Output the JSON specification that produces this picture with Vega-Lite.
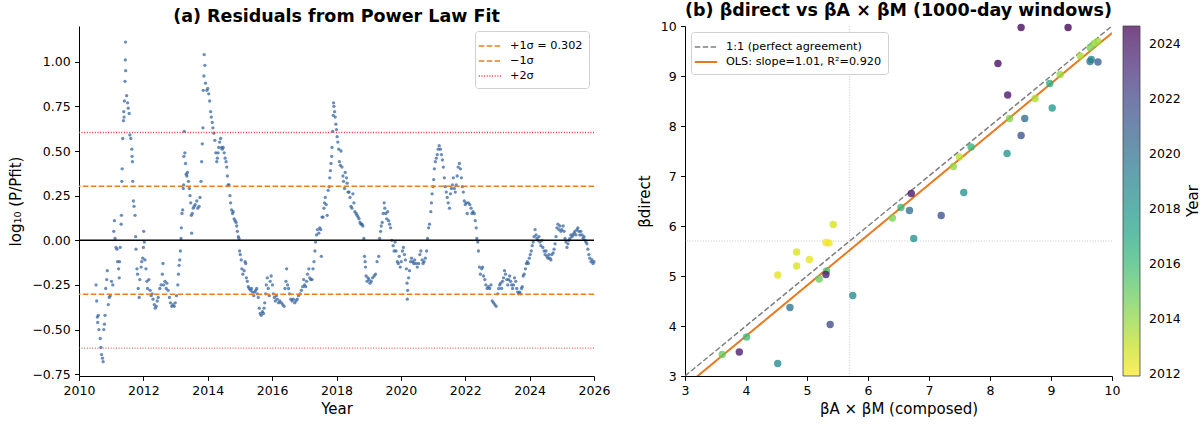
{
  "$schema": "https://vega.github.io/schema/vega-lite/v6.json",
  "background": "white",
  "padding": {"left": 8, "top": 1, "right": 2, "bottom": 2},
  "bounds": "flush",
  "spacing": 91,
  "resolve": {
    "scale": {"stroke": "independent", "strokeDash": "independent", "strokeWidth": "independent", "fill": "independent", "x": "independent", "y": "independent"},
    "legend": {"stroke": "independent", "strokeDash": "independent", "strokeWidth": "independent", "fill": "independent"}
  },
  "config": {
    "font": "DejaVu Sans",
    "view": {"stroke": null},
    "axis": {"labelFont": "DejaVu Sans", "labelFontSize": 12.5, "labelColor": "#000", "titleFont": "DejaVu Sans", "titleFontSize": 15, "titleFontWeight": "normal", "titleColor": "#000", "domainColor": "#000", "tickColor": "#000", "tickSize": 4.4, "grid": false, "labelPadding": 4.4, "titlePadding": 4, "labelFlush": false, "labelOverlap": false},
    "title": {"font": "DejaVu Sans", "fontSize": 17.5, "fontWeight": "bold", "color": "#000", "offset": 1},
    "legend": {"labelFont": "DejaVu Sans", "labelFontSize": 11.25, "labelColor": "#000", "titleFont": "DejaVu Sans"}
  },
  "datasets": {
    "resid": [
      {"t":2010.53,"v":-0.25},{"t":2010.55,"v":-0.34},{"t":2010.57,"v":-0.43},{"t":2010.58,"v":-0.46},{"t":2010.60,"v":-0.42},{"t":2010.62,"v":-0.50},{"t":2010.66,"v":-0.55},{"t":2010.68,"v":-0.60},{"t":2010.70,"v":-0.64},{"t":2010.73,"v":-0.66},{"t":2010.75,"v":-0.68},{"t":2010.77,"v":-0.50},{"t":2010.79,"v":-0.47},{"t":2010.81,"v":-0.42},{"t":2010.83,"v":-0.27},{"t":2010.86,"v":-0.22},{"t":2010.88,"v":-0.17},{"t":2010.91,"v":-0.36},{"t":2010.94,"v":-0.32},{"t":2010.97,"v":-0.31},
      {"t":2011.01,"v":-0.23},{"t":2011.05,"v":-0.25},{"t":2011.08,"v":0.05},{"t":2011.10,"v":0.11},{"t":2011.12,"v":0.01},{"t":2011.15,"v":-0.04},{"t":2011.18,"v":-0.05},{"t":2011.20,"v":-0.12},{"t":2011.23,"v":-0.16},{"t":2011.25,"v":-0.21},{"t":2011.26,"v":-0.12},{"t":2011.28,"v":-0.04},{"t":2011.31,"v":0.09},{"t":2011.32,"v":0.14},{"t":2011.33,"v":0.33},{"t":2011.34,"v":0.40},{"t":2011.36,"v":0.57},{"t":2011.38,"v":0.67},{"t":2011.39,"v":0.72},{"t":2011.40,"v":0.69},{"t":2011.41,"v":0.78},{"t":2011.43,"v":0.89},{"t":2011.44,"v":1.01},{"t":2011.445,"v":1.11},{"t":2011.45,"v":0.95},{"t":2011.48,"v":0.81},{"t":2011.51,"v":0.77},{"t":2011.53,"v":0.74},{"t":2011.56,"v":0.71},{"t":2011.58,"v":0.59},{"t":2011.61,"v":0.57},{"t":2011.64,"v":0.51},{"t":2011.65,"v":0.47},{"t":2011.66,"v":0.44},{"t":2011.67,"v":0.33},{"t":2011.69,"v":0.22},{"t":2011.71,"v":0.19},{"t":2011.74,"v":0.14},{"t":2011.76,"v":0.02},{"t":2011.77,"v":-0.05},{"t":2011.80,"v":-0.16},{"t":2011.82,"v":-0.19},{"t":2011.84,"v":-0.27},{"t":2011.87,"v":-0.32},{"t":2011.89,"v":-0.22},{"t":2011.93,"v":-0.15},{"t":2011.95,"v":-0.12},{"t":2011.98,"v":-0.10},
      {"t":2012.00,"v":-0.04},{"t":2012.01,"v":0.05},{"t":2012.03,"v":-0.01},{"t":2012.05,"v":-0.11},{"t":2012.08,"v":-0.16},{"t":2012.11,"v":-0.23},{"t":2012.13,"v":-0.27},{"t":2012.17,"v":-0.22},{"t":2012.21,"v":-0.28},{"t":2012.24,"v":-0.31},{"t":2012.27,"v":-0.30},{"t":2012.30,"v":-0.33},{"t":2012.34,"v":-0.36},{"t":2012.37,"v":-0.38},{"t":2012.40,"v":-0.37},{"t":2012.43,"v":-0.34},{"t":2012.46,"v":-0.32},{"t":2012.51,"v":-0.27},{"t":2012.55,"v":-0.25},{"t":2012.59,"v":-0.19},{"t":2012.61,"v":-0.13},{"t":2012.63,"v":-0.25},{"t":2012.67,"v":-0.23},{"t":2012.71,"v":-0.27},{"t":2012.73,"v":-0.24},{"t":2012.77,"v":-0.28},{"t":2012.81,"v":-0.32},{"t":2012.84,"v":-0.35},{"t":2012.88,"v":-0.37},{"t":2012.92,"v":-0.36},{"t":2012.96,"v":-0.37},{"t":2012.99,"v":-0.35},
      {"t":2013.03,"v":-0.31},{"t":2013.07,"v":-0.25},{"t":2013.09,"v":-0.19},{"t":2013.11,"v":-0.14},{"t":2013.13,"v":-0.11},{"t":2013.15,"v":-0.06},{"t":2013.17,"v":0.01},{"t":2013.18,"v":0.07},{"t":2013.20,"v":0.15},{"t":2013.22,"v":0.17},{"t":2013.24,"v":0.29},{"t":2013.25,"v":0.31},{"t":2013.26,"v":0.47},{"t":2013.27,"v":0.61},{"t":2013.29,"v":0.49},{"t":2013.31,"v":0.43},{"t":2013.33,"v":0.37},{"t":2013.35,"v":0.36},{"t":2013.37,"v":0.38},{"t":2013.40,"v":0.33},{"t":2013.43,"v":0.29},{"t":2013.45,"v":0.25},{"t":2013.47,"v":0.21},{"t":2013.49,"v":0.14},{"t":2013.50,"v":0.04},{"t":2013.52,"v":0.15},{"t":2013.55,"v":0.18},{"t":2013.58,"v":0.19},{"t":2013.61,"v":0.20},{"t":2013.66,"v":0.22},{"t":2013.69,"v":0.18},{"t":2013.73,"v":0.19},{"t":2013.76,"v":0.24},{"t":2013.79,"v":0.33},{"t":2013.81,"v":0.44},{"t":2013.83,"v":0.54},{"t":2013.85,"v":0.63},{"t":2013.86,"v":0.84},{"t":2013.88,"v":0.92},{"t":2013.89,"v":1.04},{"t":2013.91,"v":0.98},{"t":2013.93,"v":0.88},{"t":2013.97,"v":0.84},
      {"t":2014.00,"v":0.85},{"t":2014.03,"v":0.82},{"t":2014.06,"v":0.78},{"t":2014.09,"v":0.72},{"t":2014.11,"v":0.69},{"t":2014.14,"v":0.66},{"t":2014.16,"v":0.63},{"t":2014.19,"v":0.60},{"t":2014.22,"v":0.56},{"t":2014.25,"v":0.49},{"t":2014.28,"v":0.44},{"t":2014.30,"v":0.46},{"t":2014.32,"v":0.49},{"t":2014.34,"v":0.52},{"t":2014.37,"v":0.55},{"t":2014.40,"v":0.57},{"t":2014.43,"v":0.52},{"t":2014.45,"v":0.51},{"t":2014.48,"v":0.52},{"t":2014.51,"v":0.49},{"t":2014.54,"v":0.46},{"t":2014.57,"v":0.44},{"t":2014.59,"v":0.41},{"t":2014.61,"v":0.36},{"t":2014.63,"v":0.31},{"t":2014.66,"v":0.31},{"t":2014.69,"v":0.25},{"t":2014.71,"v":0.21},{"t":2014.74,"v":0.17},{"t":2014.77,"v":0.15},{"t":2014.79,"v":0.16},{"t":2014.82,"v":0.12},{"t":2014.85,"v":0.11},{"t":2014.88,"v":0.10},{"t":2014.90,"v":0.08},{"t":2014.92,"v":0.05},{"t":2014.95,"v":0.02},{"t":2014.97,"v":0.01},{"t":2014.99,"v":-0.06},
      {"t":2015.01,"v":-0.08},{"t":2015.04,"v":-0.11},{"t":2015.06,"v":-0.16},{"t":2015.09,"v":-0.19},{"t":2015.13,"v":-0.17},{"t":2015.16,"v":-0.12},{"t":2015.18,"v":-0.13},{"t":2015.20,"v":-0.21},{"t":2015.23,"v":-0.23},{"t":2015.26,"v":-0.26},{"t":2015.29,"v":-0.27},{"t":2015.33,"v":-0.28},{"t":2015.36,"v":-0.27},{"t":2015.39,"v":-0.29},{"t":2015.43,"v":-0.31},{"t":2015.46,"v":-0.29},{"t":2015.49,"v":-0.28},{"t":2015.52,"v":-0.27},{"t":2015.54,"v":-0.30},{"t":2015.57,"v":-0.32},{"t":2015.60,"v":-0.38},{"t":2015.63,"v":-0.41},{"t":2015.66,"v":-0.42},{"t":2015.70,"v":-0.40},{"t":2015.73,"v":-0.41},{"t":2015.75,"v":-0.38},{"t":2015.77,"v":-0.35},{"t":2015.80,"v":-0.30},{"t":2015.82,"v":-0.25},{"t":2015.85,"v":-0.21},{"t":2015.88,"v":-0.27},{"t":2015.91,"v":-0.31},{"t":2015.94,"v":-0.23},{"t":2015.97,"v":-0.20},
      {"t":2016.01,"v":-0.25},{"t":2016.04,"v":-0.30},{"t":2016.07,"v":-0.32},{"t":2016.10,"v":-0.34},{"t":2016.13,"v":-0.31},{"t":2016.16,"v":-0.33},{"t":2016.20,"v":-0.35},{"t":2016.24,"v":-0.34},{"t":2016.29,"v":-0.35},{"t":2016.33,"v":-0.36},{"t":2016.37,"v":-0.37},{"t":2016.40,"v":-0.27},{"t":2016.43,"v":-0.23},{"t":2016.45,"v":-0.16},{"t":2016.48,"v":-0.25},{"t":2016.51,"v":-0.27},{"t":2016.54,"v":-0.30},{"t":2016.58,"v":-0.33},{"t":2016.62,"v":-0.34},{"t":2016.66,"v":-0.33},{"t":2016.70,"v":-0.35},{"t":2016.74,"v":-0.34},{"t":2016.78,"v":-0.33},{"t":2016.82,"v":-0.31},{"t":2016.87,"v":-0.30},{"t":2016.91,"v":-0.28},{"t":2016.95,"v":-0.26},{"t":2016.98,"v":-0.22},
      {"t":2017.01,"v":-0.25},{"t":2017.04,"v":-0.26},{"t":2017.07,"v":-0.23},{"t":2017.10,"v":-0.19},{"t":2017.14,"v":-0.16},{"t":2017.17,"v":-0.21},{"t":2017.20,"v":-0.22},{"t":2017.24,"v":-0.22},{"t":2017.27,"v":-0.16},{"t":2017.30,"v":-0.12},{"t":2017.33,"v":-0.06},{"t":2017.35,"v":-0.01},{"t":2017.38,"v":0.03},{"t":2017.41,"v":0.06},{"t":2017.45,"v":0.04},{"t":2017.48,"v":0.07},{"t":2017.51,"v":0.06},{"t":2017.53,"v":-0.09},{"t":2017.55,"v":0.13},{"t":2017.58,"v":0.13},{"t":2017.61,"v":0.18},{"t":2017.63,"v":0.21},{"t":2017.65,"v":0.24},{"t":2017.68,"v":0.20},{"t":2017.71,"v":0.14},{"t":2017.74,"v":0.28},{"t":2017.77,"v":0.30},{"t":2017.79,"v":0.35},{"t":2017.81,"v":0.39},{"t":2017.83,"v":0.43},{"t":2017.85,"v":0.47},{"t":2017.86,"v":0.52},{"t":2017.88,"v":0.61},{"t":2017.90,"v":0.70},{"t":2017.91,"v":0.77},{"t":2017.92,"v":0.75},{"t":2017.94,"v":0.72},{"t":2017.96,"v":0.69},{"t":2017.98,"v":0.65},
      {"t":2018.00,"v":0.62},{"t":2018.02,"v":0.58},{"t":2018.04,"v":0.55},{"t":2018.07,"v":0.51},{"t":2018.09,"v":0.44},{"t":2018.12,"v":0.42},{"t":2018.14,"v":0.50},{"t":2018.17,"v":0.41},{"t":2018.20,"v":0.36},{"t":2018.22,"v":0.33},{"t":2018.25,"v":0.29},{"t":2018.27,"v":0.38},{"t":2018.31,"v":0.35},{"t":2018.33,"v":0.32},{"t":2018.36,"v":0.27},{"t":2018.39,"v":0.27},{"t":2018.42,"v":0.24},{"t":2018.45,"v":0.19},{"t":2018.48,"v":0.18},{"t":2018.51,"v":0.26},{"t":2018.54,"v":0.21},{"t":2018.57,"v":0.16},{"t":2018.61,"v":0.15},{"t":2018.64,"v":0.14},{"t":2018.67,"v":0.13},{"t":2018.70,"v":0.12},{"t":2018.73,"v":0.10},{"t":2018.76,"v":0.09},{"t":2018.79,"v":0.09},{"t":2018.82,"v":0.08},{"t":2018.85,"v":0.01},{"t":2018.87,"v":-0.09},{"t":2018.89,"v":-0.12},{"t":2018.90,"v":-0.15},{"t":2018.92,"v":-0.20},{"t":2018.95,"v":-0.23},{"t":2018.98,"v":-0.21},
      {"t":2019.01,"v":-0.22},{"t":2019.04,"v":-0.24},{"t":2019.08,"v":-0.23},{"t":2019.12,"v":-0.21},{"t":2019.17,"v":-0.20},{"t":2019.21,"v":-0.19},{"t":2019.26,"v":-0.12},{"t":2019.31,"v":-0.09},{"t":2019.34,"v":0.01},{"t":2019.37,"v":0.05},{"t":2019.39,"v":0.08},{"t":2019.42,"v":0.10},{"t":2019.45,"v":0.15},{"t":2019.48,"v":0.21},{"t":2019.50,"v":0.18},{"t":2019.53,"v":0.15},{"t":2019.56,"v":0.12},{"t":2019.59,"v":0.16},{"t":2019.62,"v":0.11},{"t":2019.65,"v":0.09},{"t":2019.68,"v":0.07},{"t":2019.72,"v":0.00},{"t":2019.76,"v":-0.03},{"t":2019.79,"v":-0.06},{"t":2019.82,"v":-0.01},{"t":2019.85,"v":-0.06},{"t":2019.89,"v":-0.12},{"t":2019.92,"v":-0.13},{"t":2019.95,"v":-0.09},{"t":2019.98,"v":-0.15},
      {"t":2020.01,"v":-0.12},{"t":2020.05,"v":-0.06},{"t":2020.08,"v":-0.04},{"t":2020.11,"v":-0.08},{"t":2020.14,"v":-0.11},{"t":2020.17,"v":-0.16},{"t":2020.19,"v":-0.24},{"t":2020.20,"v":-0.33},{"t":2020.21,"v":-0.28},{"t":2020.24,"v":-0.21},{"t":2020.27,"v":-0.17},{"t":2020.30,"v":-0.12},{"t":2020.33,"v":-0.10},{"t":2020.37,"v":-0.12},{"t":2020.40,"v":-0.13},{"t":2020.43,"v":-0.11},{"t":2020.47,"v":-0.13},{"t":2020.51,"v":-0.15},{"t":2020.55,"v":-0.13},{"t":2020.59,"v":-0.08},{"t":2020.62,"v":-0.06},{"t":2020.66,"v":-0.11},{"t":2020.69,"v":-0.13},{"t":2020.72,"v":-0.12},{"t":2020.76,"v":-0.10},{"t":2020.80,"v":-0.06},{"t":2020.83,"v":0.01},{"t":2020.86,"v":0.07},{"t":2020.89,"v":0.09},{"t":2020.93,"v":0.16},{"t":2020.95,"v":0.21},{"t":2020.97,"v":0.26},
      {"t":2021.00,"v":0.30},{"t":2021.02,"v":0.34},{"t":2021.04,"v":0.40},{"t":2021.07,"v":0.44},{"t":2021.10,"v":0.46},{"t":2021.13,"v":0.48},{"t":2021.16,"v":0.51},{"t":2021.19,"v":0.53},{"t":2021.23,"v":0.51},{"t":2021.26,"v":0.48},{"t":2021.29,"v":0.45},{"t":2021.32,"v":0.41},{"t":2021.35,"v":0.35},{"t":2021.38,"v":0.30},{"t":2021.41,"v":0.27},{"t":2021.44,"v":0.24},{"t":2021.47,"v":0.21},{"t":2021.51,"v":0.18},{"t":2021.54,"v":0.26},{"t":2021.57,"v":0.29},{"t":2021.60,"v":0.31},{"t":2021.63,"v":0.35},{"t":2021.66,"v":0.29},{"t":2021.69,"v":0.27},{"t":2021.72,"v":0.31},{"t":2021.75,"v":0.36},{"t":2021.78,"v":0.41},{"t":2021.82,"v":0.43},{"t":2021.85,"v":0.40},{"t":2021.88,"v":0.35},{"t":2021.91,"v":0.30},{"t":2021.94,"v":0.27},{"t":2021.97,"v":0.22},
      {"t":2022.00,"v":0.20},{"t":2022.03,"v":0.21},{"t":2022.06,"v":0.15},{"t":2022.10,"v":0.21},{"t":2022.14,"v":0.20},{"t":2022.18,"v":0.18},{"t":2022.21,"v":0.15},{"t":2022.24,"v":0.16},{"t":2022.28,"v":0.15},{"t":2022.31,"v":0.11},{"t":2022.34,"v":0.07},{"t":2022.36,"v":0.01},{"t":2022.39,"v":-0.01},{"t":2022.41,"v":-0.06},{"t":2022.44,"v":-0.15},{"t":2022.47,"v":-0.19},{"t":2022.51,"v":-0.16},{"t":2022.54,"v":-0.15},{"t":2022.57,"v":-0.20},{"t":2022.61,"v":-0.22},{"t":2022.64,"v":-0.25},{"t":2022.68,"v":-0.27},{"t":2022.72,"v":-0.26},{"t":2022.76,"v":-0.27},{"t":2022.80,"v":-0.25},{"t":2022.84,"v":-0.34},{"t":2022.88,"v":-0.35},{"t":2022.92,"v":-0.36},{"t":2022.96,"v":-0.37},
      {"t":2023.01,"v":-0.30},{"t":2023.04,"v":-0.27},{"t":2023.07,"v":-0.25},{"t":2023.10,"v":-0.24},{"t":2023.13,"v":-0.27},{"t":2023.16,"v":-0.23},{"t":2023.19,"v":-0.21},{"t":2023.22,"v":-0.17},{"t":2023.25,"v":-0.19},{"t":2023.29,"v":-0.22},{"t":2023.32,"v":-0.25},{"t":2023.35,"v":-0.22},{"t":2023.38,"v":-0.20},{"t":2023.41,"v":-0.23},{"t":2023.44,"v":-0.25},{"t":2023.47,"v":-0.27},{"t":2023.50,"v":-0.25},{"t":2023.53,"v":-0.21},{"t":2023.57,"v":-0.23},{"t":2023.60,"v":-0.27},{"t":2023.63,"v":-0.29},{"t":2023.66,"v":-0.30},{"t":2023.69,"v":-0.29},{"t":2023.72,"v":-0.30},{"t":2023.75,"v":-0.27},{"t":2023.77,"v":-0.26},{"t":2023.80,"v":-0.20},{"t":2023.83,"v":-0.19},{"t":2023.87,"v":-0.16},{"t":2023.90,"v":-0.13},{"t":2023.93,"v":-0.12},{"t":2023.96,"v":-0.13},{"t":2023.99,"v":-0.10},
      {"t":2024.02,"v":-0.08},{"t":2024.05,"v":-0.06},{"t":2024.08,"v":-0.03},{"t":2024.11,"v":-0.01},{"t":2024.14,"v":0.02},{"t":2024.17,"v":0.06},{"t":2024.20,"v":0.03},{"t":2024.23,"v":0.01},{"t":2024.26,"v":0.00},{"t":2024.29,"v":0.02},{"t":2024.32,"v":-0.01},{"t":2024.35,"v":-0.03},{"t":2024.38,"v":0.00},{"t":2024.41,"v":-0.04},{"t":2024.45,"v":-0.06},{"t":2024.48,"v":-0.08},{"t":2024.51,"v":-0.06},{"t":2024.54,"v":-0.09},{"t":2024.57,"v":-0.10},{"t":2024.60,"v":-0.08},{"t":2024.63,"v":-0.10},{"t":2024.66,"v":-0.11},{"t":2024.69,"v":-0.08},{"t":2024.73,"v":-0.07},{"t":2024.76,"v":-0.05},{"t":2024.79,"v":-0.02},{"t":2024.82,"v":0.02},{"t":2024.85,"v":0.07},{"t":2024.88,"v":0.09},{"t":2024.91,"v":0.06},{"t":2024.94,"v":0.08},{"t":2024.97,"v":0.05},
      {"t":2025.00,"v":0.06},{"t":2025.04,"v":0.08},{"t":2025.07,"v":0.05},{"t":2025.10,"v":0.01},{"t":2025.13,"v":-0.01},{"t":2025.16,"v":-0.04},{"t":2025.19,"v":-0.02},{"t":2025.22,"v":0.00},{"t":2025.25,"v":0.01},{"t":2025.28,"v":0.03},{"t":2025.32,"v":0.02},{"t":2025.35,"v":0.03},{"t":2025.38,"v":0.04},{"t":2025.41,"v":0.05},{"t":2025.44,"v":0.03},{"t":2025.47,"v":0.06},{"t":2025.50,"v":0.07},{"t":2025.53,"v":0.05},{"t":2025.56,"v":0.03},{"t":2025.59,"v":0.05},{"t":2025.63,"v":0.03},{"t":2025.66,"v":0.01},{"t":2025.69,"v":0.02},{"t":2025.72,"v":0.00},{"t":2025.75,"v":-0.01},{"t":2025.78,"v":-0.02},{"t":2025.81,"v":-0.05},{"t":2025.84,"v":-0.08},{"t":2025.87,"v":-0.10},{"t":2025.91,"v":-0.12},{"t":2025.94,"v":-0.11},{"t":2025.97,"v":-0.13},{"t":2026.00,"v":-0.12}
    ],
    "sig": [
      {"v": 0.302, "k": "+1σ = 0.302"},
      {"v": -0.302, "k": "−1σ"},
      {"v": 0.604, "k": "+2σ"}
    ],
    "sig2": [{"v": -0.604}],
    "zero": [{"v": 0}],
    "beta": [
      {"x":8.51,"y":9.97,"yr":2024.5},{"x":9.28,"y":9.97,"yr":2024.6},{"x":8.13,"y":9.25,"yr":2024.3},{"x":8.29,"y":8.62,"yr":2024.1},
      {"x":9.64,"y":9.29,"yr":2019.8},{"x":9.77,"y":9.28,"yr":2021.0},{"x":9.66,"y":9.33,"yr":2019.0},
      {"x":9.48,"y":9.40,"yr":2013.6},{"x":9.64,"y":9.57,"yr":2014.6},{"x":9.71,"y":9.65,"yr":2014.0},{"x":9.77,"y":9.69,"yr":2013.7},
      {"x":9.15,"y":9.03,"yr":2013.9},{"x":8.98,"y":8.85,"yr":2016.8},{"x":9.02,"y":8.36,"yr":2017.8},{"x":8.74,"y":8.55,"yr":2013.5},
      {"x":8.57,"y":8.15,"yr":2020.2},{"x":8.32,"y":8.15,"yr":2014.4},{"x":8.51,"y":7.81,"yr":2021.6},{"x":8.28,"y":7.45,"yr":2018.0},
      {"x":7.69,"y":7.58,"yr":2016.3},{"x":7.50,"y":7.38,"yr":2013.2},{"x":7.40,"y":7.19,"yr":2014.0},{"x":7.57,"y":6.67,"yr":2018.2},
      {"x":7.20,"y":6.21,"yr":2021.6},{"x":6.71,"y":6.65,"yr":2024.0},{"x":6.68,"y":6.31,"yr":2020.0},{"x":6.54,"y":6.37,"yr":2016.2},
      {"x":6.40,"y":6.16,"yr":2014.5},{"x":6.75,"y":5.75,"yr":2018.3},{"x":5.43,"y":6.03,"yr":2012.7},{"x":5.31,"y":5.67,"yr":2012.1},
      {"x":5.36,"y":5.66,"yr":2012.2},{"x":4.83,"y":5.48,"yr":2012.6},{"x":5.04,"y":5.33,"yr":2012.4},{"x":4.83,"y":5.20,"yr":2012.6},
      {"x":4.52,"y":5.02,"yr":2012.5},{"x":5.32,"y":5.10,"yr":2015.6},{"x":5.31,"y":5.03,"yr":2023.8},{"x":5.20,"y":4.94,"yr":2014.8},
      {"x":5.75,"y":4.61,"yr":2018.6},{"x":4.72,"y":4.37,"yr":2019.8},{"x":5.38,"y":4.03,"yr":2021.8},{"x":4.01,"y":3.78,"yr":2016.0},
      {"x":3.61,"y":3.43,"yr":2015.0},{"x":3.89,"y":3.48,"yr":2023.9},{"x":4.52,"y":3.25,"yr":2018.6}
    ],
    "ref": [{"x": 5.7, "y": 5.7}],
    "lines": [
      {"x": 3, "y": 3, "s": "1:1 (perfect agreement)"},
      {"x": 10, "y": 10, "s": "1:1 (perfect agreement)"},
      {"x": 3, "y": 2.79, "s": "OLS: slope=1.01, R²=0.920"},
      {"x": 10, "y": 9.86, "s": "OLS: slope=1.01, R²=0.920"}
    ]
  },
  "hconcat": [
    {
      "width": 515,
      "height": 350,
      "title": "(a) Residuals from Power Law Fit",
      "layer": [
        {
          "data": {"name": "resid"},
          "mark": {"type": "circle", "size": 11, "opacity": 0.7, "color": "#2b5c9b"},
          "encoding": {
            "x": {"field": "t", "type": "quantitative", "scale": {"domain": [2010, 2026], "nice": false, "zero": false}, "axis": {"title": "Year", "values": [2010, 2012, 2014, 2016, 2018, 2020, 2022, 2024, 2026], "format": "d"}},
            "y": {"field": "v", "type": "quantitative", "scale": {"domain": [-0.76, 1.2], "nice": false, "zero": false}, "axis": {"title": "log₁₀ (P/Pfit)", "values": [-0.75, -0.5, -0.25, 0, 0.25, 0.5, 0.75, 1.0], "format": ".2f", "titlePadding": 8}}
          }
        },
        {
          "data": {"name": "sig"},
          "mark": {"type": "rule"},
          "encoding": {
            "y": {"field": "v", "type": "quantitative"},
            "stroke": {"field": "k", "type": "nominal", "scale": {"domain": ["+1σ = 0.302", "−1σ", "+2σ"], "range": ["#ee7d1c", "#ee7d1c", "#dd3a3a"]},
              "legend": {"orient": "top-right", "offset": 5, "title": null, "symbolType": "M-1.4,0H1.4", "symbolSize": 256, "symbolStrokeWidth": 1.5, "labelFontSize": 11.25, "fillColor": "white", "strokeColor": "#d0d0d0", "cornerRadius": 3, "padding": 6, "rowPadding": 0, "labelOffset": 11}},
            "strokeDash": {"field": "k", "type": "nominal", "scale": {"domain": ["+1σ = 0.302", "−1σ", "+2σ"], "range": [[5.5, 2.4], [5.5, 2.4], [1, 1.65]]}},
            "strokeWidth": {"field": "k", "type": "nominal", "scale": {"domain": ["+1σ = 0.302", "−1σ", "+2σ"], "range": [1.5, 1.5, 1]}, "legend": null}
          }
        },
        {
          "data": {"name": "sig2"},
          "mark": {"type": "rule", "stroke": "#dd3a3a", "strokeDash": [1, 1.65], "strokeWidth": 1},
          "encoding": {"y": {"field": "v", "type": "quantitative"}}
        },
        {
          "data": {"name": "zero"},
          "mark": {"type": "rule", "stroke": "#000", "strokeWidth": 1.5},
          "encoding": {"y": {"field": "v", "type": "quantitative"}}
        }
      ]
    },
    {
      "width": 427,
      "height": 350,
      "title": "(b) βdirect vs βA × βM  (1000-day windows)",
      "layer": [
        {
          "data": {"name": "ref"},
          "mark": {"type": "rule", "stroke": "#b5b5b5", "strokeDash": [1, 1.65], "strokeWidth": 0.8},
          "encoding": {"x": {"field": "x", "type": "quantitative", "scale": {"domain": [3, 10], "nice": false, "zero": false}, "axis": {"title": "βA × βM (composed)", "values": [3, 4, 5, 6, 7, 8, 9, 10], "format": "d"}}}
        },
        {
          "data": {"name": "ref"},
          "mark": {"type": "rule", "stroke": "#b5b5b5", "strokeDash": [1, 1.65], "strokeWidth": 0.8},
          "encoding": {"y": {"field": "y", "type": "quantitative", "scale": {"domain": [3, 10], "nice": false, "zero": false}, "axis": {"title": "βdirect", "values": [3, 4, 5, 6, 7, 8, 9, 10], "format": "d", "titlePadding": 8}}}
        },
        {
          "data": {"name": "lines"},
          "mark": {"type": "line", "clip": true},
          "encoding": {
            "x": {"field": "x", "type": "quantitative"},
            "y": {"field": "y", "type": "quantitative"},
            "stroke": {"field": "s", "type": "nominal", "scale": {"domain": ["1:1 (perfect agreement)", "OLS: slope=1.01, R²=0.920"], "range": ["#7f7f7f", "#e8791c"]},
              "legend": {"orient": "top-left", "offset": 6, "title": null, "symbolType": "M-1.4,0H1.4", "symbolSize": 256, "symbolStrokeWidth": 1.8, "labelFontSize": 11.25, "fillColor": "white", "strokeColor": "#d0d0d0", "cornerRadius": 3, "padding": 6, "rowPadding": 0, "labelOffset": 11}},
            "strokeDash": {"field": "s", "type": "nominal", "scale": {"domain": ["1:1 (perfect agreement)", "OLS: slope=1.01, R²=0.920"], "range": [[5.5, 2.4], [1, 0]]}},
            "strokeWidth": {"field": "s", "type": "nominal", "scale": {"domain": ["1:1 (perfect agreement)", "OLS: slope=1.01, R²=0.920"], "range": [1.5, 2]}, "legend": null}
          }
        },
        {
          "data": {"name": "beta"},
          "mark": {"type": "circle", "size": 55, "opacity": 0.78},
          "encoding": {
            "x": {"field": "x", "type": "quantitative"},
            "y": {"field": "y", "type": "quantitative"},
            "fill": {"field": "yr", "type": "quantitative", "scale": {"scheme": "viridis", "reverse": true, "domain": [2011.92, 2024.67], "nice": false, "zero": false},
              "legend": {"type": "gradient", "direction": "vertical", "orient": "right", "offset": 11, "gradientLength": 350, "gradientThickness": 17, "gradientStrokeColor": "#000", "gradientStrokeWidth": 0.8, "gradientOpacity": 0.72, "values": [2012, 2014, 2016, 2018, 2020, 2022, 2024], "format": "d", "title": "Year", "titleOrient": "right", "titleFontSize": 15, "titleFontWeight": "normal", "titleColor": "#000", "titleAnchor": "middle", "titlePadding": 20, "labelFontSize": 12.5, "labelOffset": 9,
                "encode": {"title": {"update": {"angle": {"value": 270}}}}}}
          }
        }
      ]
    }
  ]
}
